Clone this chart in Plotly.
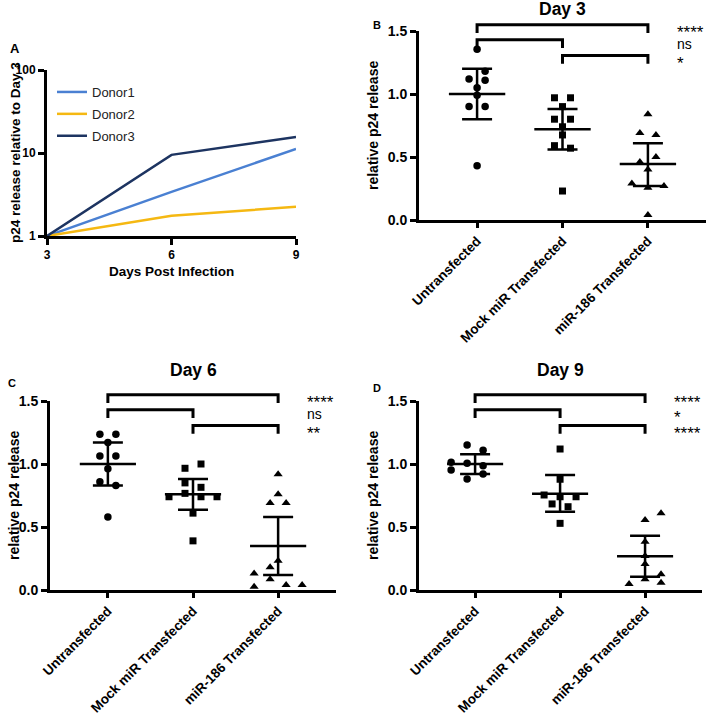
import plotly.graph_objects as go

W, H = 709, 716
FONT = "Liberation Sans, Arial, Helvetica, sans-serif"

# ---------------- Panel A data ----------------
days = [3, 6, 9]
donor_names = ["Donor1", "Donor2", "Donor3"]
donor1 = [1.0, 3.4, 11.2]
donor2 = [1.0, 1.75, 2.25]
donor3 = [1.0, 9.5, 15.6]
donor_colors = ["#4A80D2", "#F5B812", "#1D3461"]
a_ticks = [1, 10, 100]
a_ticktext = ["1", "10", "100"]

# ---------------- Panels B-D data ----------------
categories = ["Untransfected", "Mock miR Transfected", "miR-186 Transfected"]
y_ticks = [0, 0.5, 1.0, 1.5]
y_ticktext = ["0.0", "0.5", "1.0", "1.5"]

# Day 3
d3_untrans = [1.355, 1.18, 1.12, 1.11, 1.05, 0.99, 0.90, 0.90, 0.43]
d3_mock = [0.97, 0.97, 0.90, 0.80, 0.80, 0.74, 0.675, 0.59, 0.57, 0.23]
d3_mir = [0.84, 0.69, 0.675, 0.46, 0.50, 0.40, 0.29, 0.256, 0.27, 0.04]
d3_mean = [1.0, 0.72, 0.444]
d3_hi = [1.2, 0.88, 0.61]
d3_lo = [0.8, 0.56, 0.27]
d3_sig = ["****", "ns", "*"]

# Day 6
d6_untrans = [1.236, 1.236, 1.17, 1.063, 1.063, 0.963, 0.86, 0.83, 0.58]
d6_mock = [0.966, 1.0, 0.85, 0.815, 0.74, 0.767, 0.74, 0.74, 0.61, 0.39]
d6_mir = [0.918, 0.76, 0.69, 0.69, 0.233, 0.18, 0.13, 0.085, 0.026, 0.04, 0.04]
d6_mean = [1.0, 0.76, 0.35]
d6_hi = [1.17, 0.88, 0.58]
d6_lo = [0.83, 0.637, 0.12]
d6_sig = ["****", "ns", "**"]

# Day 9
d9_untrans = [1.15, 1.11, 1.013, 0.952, 1.006, 0.987, 0.92, 0.88]
d9_mock = [1.119, 0.879, 0.754, 0.74, 0.74, 0.683, 0.661, 0.529]
d9_mir = [0.556, 0.609, 0.383, 0.27, 0.206, 0.125, 0.085, 0.058, 0.048]
d9_mean = [1.0, 0.763, 0.267]
d9_hi = [1.077, 0.913, 0.43]
d9_lo = [0.92, 0.621, 0.106]
d9_sig = ["****", "*", "****"]

# comparisons (category index pairs) for significance brackets
comparisons = [(0, 2), (0, 1), (1, 2)]

# ---------------- layout-only helpers (positions / styles) ----------------
JIT = 0.094  # horizontal scatter step in category units
jit = {
    "d3": [[0, 1, -1, 1, 0, 0, -1, 1, 0],
           [-1, 1, 0, -1, 1, 0, 0, -1, 1, 0],
           [0, -1, 1, -1, 1, 0, -2, 0, 2, 0]],
    "d6": [[-1, 1, 0, -1, 1, 0, -1, 1, 0],
           [-1, 1, -1, 1, -3, -1, 1, 3, 0, 0],
           [0, 0, -1, 1, 0, -1, -3, -1, -3, 1, 3]],
    "d9": [[-1, 1, -3, -3, -1, 1, 1, -1],
           [0, 0, -2, 0, 2, -1, 1, 0],
           [0, 2, 0, 0, 0, 2, 0, 2, -2]],
}
bracket_levels = [1.55, 1.43, 1.305]
bracket_drop = 0.065
symbols = ["circle", "square", "triangle-up"]
sizes = [7.5, 7, 8]


def px(x):
    return x / W


def py(y):
    return 1 - y / H


fig = go.Figure()

# ---------------- Panel A ----------------
for name, vals, col in zip(donor_names, [donor1, donor2, donor3], donor_colors):
    fig.add_trace(go.Scatter(
        x=days, y=vals, mode="lines", name=name, legendgroup=name,
        line=dict(color=col, width=2.5), xaxis="x", yaxis="y", showlegend=True))

# ---------------- Panels B-D ----------------
panels = [
    ("d3", "2", [d3_untrans, d3_mock, d3_mir], d3_mean, d3_hi, d3_lo, d3_sig, "Day 3"),
    ("d6", "3", [d6_untrans, d6_mock, d6_mir], d6_mean, d6_hi, d6_lo, d6_sig, "Day 6"),
    ("d9", "4", [d9_untrans, d9_mock, d9_mir], d9_mean, d9_hi, d9_lo, d9_sig, "Day 9"),
]

shapes = []
annotations = []

for key, ax, groups, mean, hi, lo, sig, title in panels:
    xa, ya = "x" + ax, "y" + ax
    for ci, vals in enumerate(groups):
        xs = [ci + j * JIT for j in jit[key][ci]]
        fig.add_trace(go.Scatter(
            x=xs, y=vals, mode="markers", showlegend=False, cliponaxis=False,
            marker=dict(symbol=symbols[ci], size=sizes[ci], color="black",
                        line=dict(width=0)),
            xaxis=xa, yaxis=ya))
    # mean lines
    mx, my = [], []
    for ci, m in enumerate(mean):
        mx += [ci - 0.33, ci + 0.33, None]
        my += [m, m, None]
    fig.add_trace(go.Scatter(x=mx, y=my, mode="lines", showlegend=False,
                             line=dict(color="black", width=2.5),
                             xaxis=xa, yaxis=ya))
    # SD error bars
    fig.add_trace(go.Scatter(
        x=list(range(3)), y=mean, mode="markers", showlegend=False,
        marker=dict(size=1, color="rgba(0,0,0,0)"),
        error_y=dict(type="data", symmetric=False,
                     array=[h - m for h, m in zip(hi, mean)],
                     arrayminus=[m - l for m, l in zip(mean, lo)],
                     width=15, thickness=2.5, color="black"),
        xaxis=xa, yaxis=ya))
    # brackets
    for (a, b), lev, s in zip(comparisons, bracket_levels, sig):
        top = lev / 1.5
        bot = (lev - bracket_drop) / 1.5
        shapes.append(dict(
            type="path", xref=xa, yref=ya + " domain",
            path=f"M {a},{bot} L {a},{top} L {b},{top} L {b},{bot}",
            line=dict(color="black", width=3)))
        star = "*" in s
        annotations.append(dict(
            text=s, xref=xa, yref=ya + " domain", x=2.32, y=top,
            xanchor="left", yanchor="middle", showarrow=False,
            yshift=-8 if star else -4,
            font=dict(family=FONT, size=17 if star else 14, color="black")))
    # title
    annotations.append(dict(
        text=title, xref=xa + " domain", yref="paper", x=0.5,
        y=py({"d3": 9, "d6": 370, "d9": 370}[key]),
        xanchor="center", yanchor="middle", showarrow=False,
        font=dict(family=FONT, size=17.5, color="black", weight="bold")))

# axis titles & panel letters
annotations += [
    dict(text="p24 release relative to Day 3", x=px(15), y=py(153), textangle=-90,
         font=dict(size=13.5)),
    dict(text="Days Post Infection", x=px(171.5), y=py(271.5), font=dict(size=13.5)),
    dict(text="relative p24 release", x=px(372.5), y=py(125.5), textangle=-90,
         font=dict(size=14)),
    dict(text="relative p24 release", x=px(13.5), y=py(495.5), textangle=-90,
         font=dict(size=14)),
    dict(text="relative p24 release", x=px(372.5), y=py(495.5), textangle=-90,
         font=dict(size=14)),
    dict(text="A", x=px(15), y=py(48), font=dict(size=13)),
    dict(text="B", x=px(377), y=py(25), font=dict(size=11)),
    dict(text="C", x=px(12), y=py(383), font=dict(size=11)),
    dict(text="D", x=px(377), y=py(388), font=dict(size=11)),
]
for an in annotations[-9:]:
    an.update(xref="paper", yref="paper", xanchor="center", yanchor="middle",
              showarrow=False)
    an["font"].update(family=FONT, color="black", weight="bold")

axis_common = dict(showline=True, linewidth=3, linecolor="black", ticks="outside",
                   tickwidth=3, tickcolor="black", showgrid=False, zeroline=False,
                   automargin=False,
                   tickfont=dict(family=FONT, size=14, color="black", weight="bold"))

layout = dict(
    width=W, height=H, margin=dict(l=0, r=0, t=0, b=0, autoexpand=False),
    paper_bgcolor="white", plot_bgcolor="rgba(0,0,0,0)",
    font=dict(family=FONT, color="black"),
    showlegend=True,
    legend=dict(x=px(52), y=py(77), xanchor="left", yanchor="top",
                bgcolor="rgba(0,0,0,0)", borderwidth=0, tracegroupgap=2,
                traceorder="grouped",
                font=dict(family=FONT, size=13, color="#222")),
    shapes=shapes, annotations=annotations,
    xaxis=dict(axis_common, domain=[px(47), px(296)], range=[3, 9],
               tickvals=days, ticklen=6, anchor="y",
               tickfont=dict(family=FONT, size=12, color="black", weight="bold")),
    yaxis=dict(axis_common, domain=[py(236), py(70)], type="log", range=[0, 2],
               tickvals=a_ticks, ticktext=a_ticktext, ticklen=6, anchor="x",
               tickfont=dict(family=FONT, size=12, color="black", weight="bold")),
)

cat_domains = {"2": ([419, 706], [31, 220], [-0.68, 2.68]),
               "3": ([50, 336], [401, 590], [-0.68, 2.68]),
               "4": ([419, 702], [401, 590], [-0.66, 2.67])}
for ax, (xd, yd, xr) in cat_domains.items():
    layout["xaxis" + ax] = dict(axis_common, domain=[px(xd[0]), px(xd[1])], range=xr,
                                tickvals=[0, 1, 2], ticktext=categories, tickangle=-45,
                                ticklen=5, anchor="y" + ax,
                                tickfont=dict(family=FONT, size=13.5, color="black",
                                              weight="bold"))
    layout["yaxis" + ax] = dict(axis_common, domain=[py(yd[1]), py(yd[0])],
                                range=[0, 1.5], tickvals=y_ticks, ticktext=y_ticktext,
                                ticklen=6, anchor="x" + ax)

fig.update_layout(**layout)
fig.write_html("out.html",
               config={"displayModeBar": False, "staticPlot": True},
               post_script="document.body.style.margin='0';"
                           "document.body.style.overflow='hidden';")
